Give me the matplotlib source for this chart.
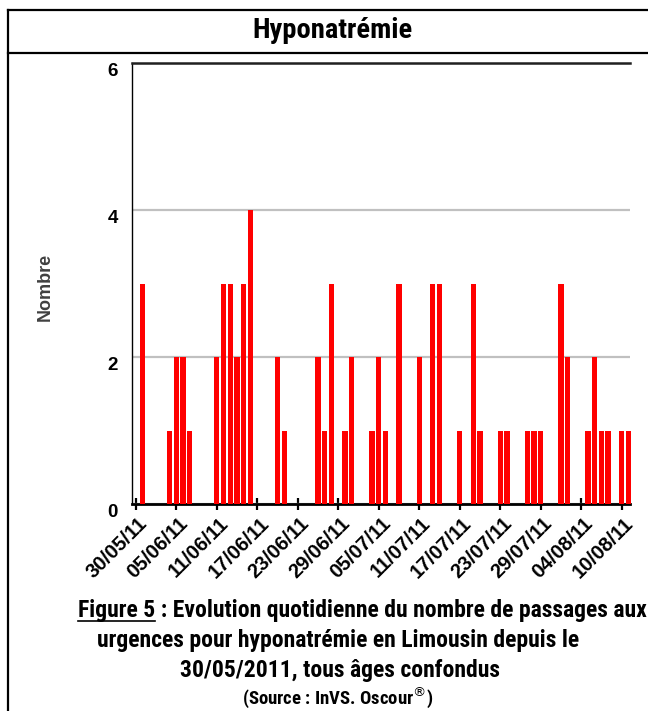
import matplotlib
matplotlib.use('Agg')
import matplotlib.pyplot as plt
import numpy as np
import pandas as pd
from matplotlib import font_manager as fm
from matplotlib.lines import Line2D
import matplotlib.transforms as mtransforms

# ---------------- data ----------------
start_date = '2011-05-30'
values = [0, 3, 0, 0, 0, 1, 2, 2, 1, 0,
          0, 0, 2, 3, 3, 2, 3, 4, 0, 0,
          0, 2, 1, 0, 0, 0, 0, 2, 1, 3,
          0, 1, 2, 0, 0, 1, 2, 1, 0, 3,
          0, 0, 2, 0, 3, 3, 0, 0, 1, 0,
          3, 1, 0, 0, 1, 1, 0, 0, 1, 1,
          1, 0, 0, 3, 2, 0, 0, 1, 2, 1,
          1, 0, 1, 1]
dates = pd.date_range(start_date, periods=len(values), freq='D')
tick_step = 6
y_ticks = [0, 2, 4, 6]
title = 'Hyponatrémie'
ylabel = 'Nombre'
caption_lines = ['Figure 5 : Evolution quotidienne du nombre de passages aux',
                 'urgences pour hyponatrémie en Limousin depuis le',
                 '30/05/2011, tous âges confondus']
source = r'(Source : InVS. Oscour$^{\circledR}$)'


def pick(names):
    for n in names:
        try:
            fm.findfont(fm.FontProperties(family=n), fallback_to_default=False)
            return n
        except Exception:
            pass
    return 'DejaVu Sans'

narrow = pick(['Liberation Sans Narrow', 'DejaVu Sans Condensed', 'Roboto Condensed', 'Liberation Sans'])
arial = pick(['Liberation Sans', 'DejaVu Sans'])

W, H = 648, 711
fig = plt.figure(figsize=(W / 100, H / 100), dpi=100)

def fx(px):
    return px / W

def fy(py):
    return 1 - py / H

ax = fig.add_axes([fx(132), fy(504), fx(630) - fx(132), fy(63) - fy(504)])

x = np.arange(len(values))
ax.bar(x, values, width=0.8, color='#ff0000', zorder=3, clip_on=False)

ax.set_xlim(-0.55, 73.23)
ax.set_ylim(0, 6)

ax.set_yticks(y_ticks)
ax.set_yticklabels([str(v) for v in y_ticks], fontfamily=arial, fontweight='bold', fontsize=13.5)
yoff = mtransforms.ScaledTranslation(0, -1 / 100, fig.dpi_scale_trans)
for lab in ax.get_yticklabels():
    lab.set_va('top')
    lab.set_transform(lab.get_transform() + yoff)
ax.tick_params(axis='y', length=0, pad=10)

xt = x[::tick_step]
ax.set_xticks(xt)
ax.set_xticklabels([dates[i].strftime('%d/%m/%y') for i in xt], rotation=45,
                   ha='right', va='top', rotation_mode='anchor',
                   fontfamily=arial, fontweight='bold', fontsize=14.5)
ax.tick_params(axis='x', direction='inout', length=8, width=1.6, pad=3)
off = mtransforms.ScaledTranslation(2 / 100, 0, fig.dpi_scale_trans)
for lab in ax.get_xticklabels():
    lab.set_transform(lab.get_transform() + off)

ax.yaxis.grid(True, color='#c0c0c0', linewidth=1.6, zorder=0)
ax.set_axisbelow(True)
ax.spines['right'].set_visible(False)
ax.spines['top'].set_linewidth(1.8)
ax.spines['top'].set_color('#202020')
ax.spines['left'].set_linewidth(1.0)
ax.spines['bottom'].set_linewidth(2.0)

fig.text(fx(45), fy(287), ylabel, rotation=90, ha='center', va='center',
         fontfamily=arial, fontweight='bold', fontsize=13, color='#404040')

# frame
lw = 1.6
fig.add_artist(Line2D([fx(8), fx(8)], [fy(10), 0], color='black', lw=lw, transform=fig.transFigure))
fig.add_artist(Line2D([fx(8), 1], [fy(10), fy(10)], color='black', lw=lw, transform=fig.transFigure))
fig.add_artist(Line2D([fx(8), 1], [fy(53), fy(53)], color='black', lw=lw, transform=fig.transFigure))

fig.text(fx(332), fy(31), title, ha='center', va='center', fontfamily=narrow,
         fontweight='bold', fontsize=20.5)

centers = [362, 338, 340]
ys = [610, 640, 670]
texts = []
for s, cx, cy in zip(caption_lines, centers, ys):
    t = fig.text(fx(cx), fy(cy), s, ha='center', va='center', fontfamily=narrow,
                 fontweight='bold', fontsize=17)
    texts.append(t)
fig.text(fx(338), fy(697), source, ha='center', va='center', fontfamily=narrow,
         fontweight='bold', fontsize=13.5)

# underline "Figure 5"
fig.canvas.draw()
r = fig.canvas.get_renderer()
bb = texts[0].get_window_extent(r)
tmp = fig.text(0, 0, 'Figure 5', fontfamily=narrow, fontweight='bold', fontsize=17)
wb = tmp.get_window_extent(r)
tmp.remove()
y_ul = bb.y0 + 1
fig.add_artist(Line2D([bb.x0 / W, (bb.x0 + wb.width) / W], [y_ul / H, y_ul / H],
                      color='black', lw=1.2, transform=fig.transFigure))

fig.savefig('out.png', dpi=100)
